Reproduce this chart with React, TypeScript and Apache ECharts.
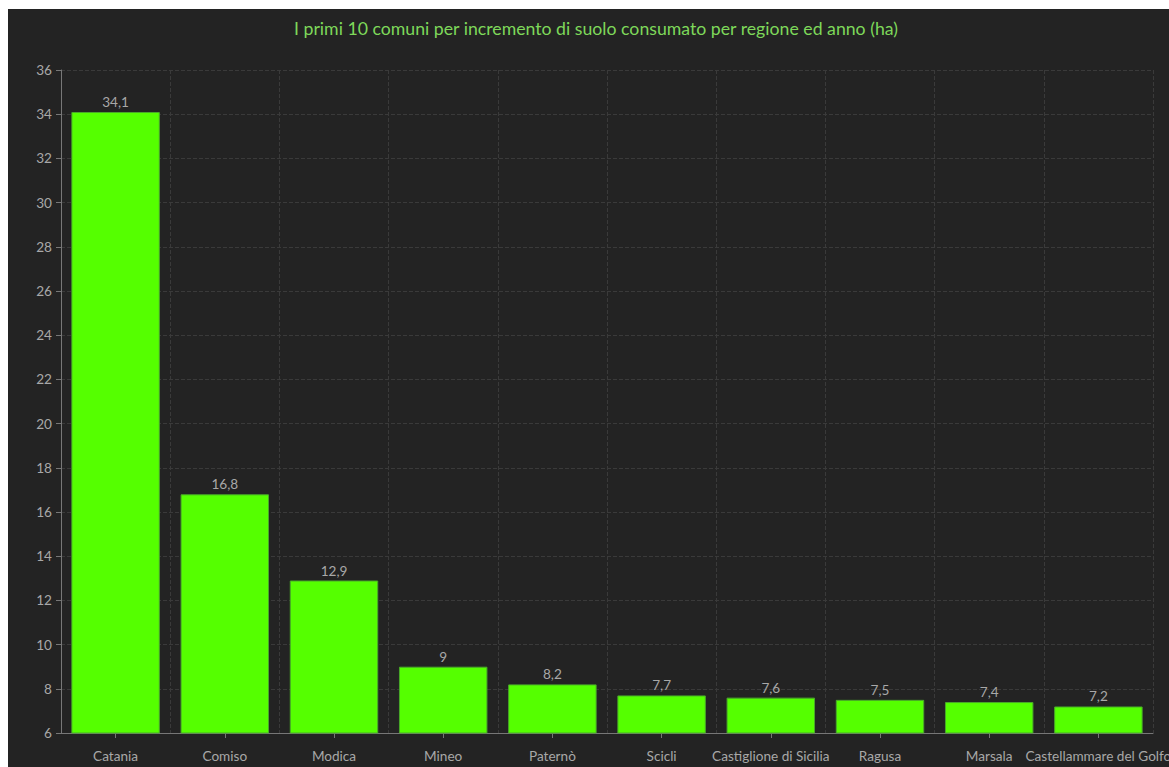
import React, { useEffect, useRef } from "react";
import * as echarts from "echarts";

const title = "I primi 10 comuni per incremento di suolo consumato per regione ed anno (ha)";
const categories = [
  "Catania",
  "Comiso",
  "Modica",
  "Mineo",
  "Paternò",
  "Scicli",
  "Castiglione di Sicilia",
  "Ragusa",
  "Marsala",
  "Castellammare del Golfo",
];
const values = [34.1, 16.8, 12.9, 9, 8.2, 7.7, 7.6, 7.5, 7.4, 7.2];

const FONT = "Lato, 'Noto Sans', sans-serif";

export default function App() {
  const ref = useRef<HTMLDivElement>(null);
  useEffect(() => {
    if (!ref.current) return;
    const chart = echarts.init(ref.current, undefined, { renderer: "svg" });
    chart.setOption({
      animation: false,
      backgroundColor: "#232323",
      title: {
        text: title,
        left: 281,
        top: 5,
        textStyle: { color: "#7ed85a", fontSize: 17.7, fontWeight: "normal", fontFamily: FONT },
      },
      grid: { left: 53, right: 30, top: 61, bottom: 51, containLabel: false },
      xAxis: {
        type: "category",
        data: categories,
        axisLine: { show: true, lineStyle: { color: "#777" } },
        axisTick: { show: true, alignWithLabel: true, length: 5, lineStyle: { color: "#777" } },
        axisLabel: { color: "#a8a8a8", fontSize: 13.6, fontFamily: FONT, interval: 0, margin: 16 },
        splitLine: { show: true, lineStyle: { color: "#3a3a3a", type: "dashed" } },
      },
      yAxis: {
        type: "value",
        min: 6,
        max: 36,
        interval: 2,
        axisLine: { show: true, lineStyle: { color: "#777" } },
        axisTick: { show: true, length: 5, lineStyle: { color: "#777" } },
        axisLabel: { color: "#a8a8a8", fontSize: 13.6, fontFamily: FONT, margin: 9 },
        splitLine: { show: true, lineStyle: { color: "#3a3a3a", type: "dashed" } },
      },
      series: [
        {
          type: "bar",
          data: values,
          barCategoryGap: "19%",
          itemStyle: { color: "#55ff00", borderColor: "#4aa82a", borderWidth: 1 },
          label: {
            show: true,
            position: "top",
            distance: 3,
            color: "#a8a8a8",
            fontSize: 13.6,
            fontFamily: FONT,
            formatter: (p: any) => String(p.value).replace(".", ","),
          },
        },
      ],
    });
    return () => chart.dispose();
  }, []);
  return (
    <div
      ref={ref}
      style={{ position: "absolute", left: 8, top: 9, width: 1175, height: 775 }}
    />
  );
}
